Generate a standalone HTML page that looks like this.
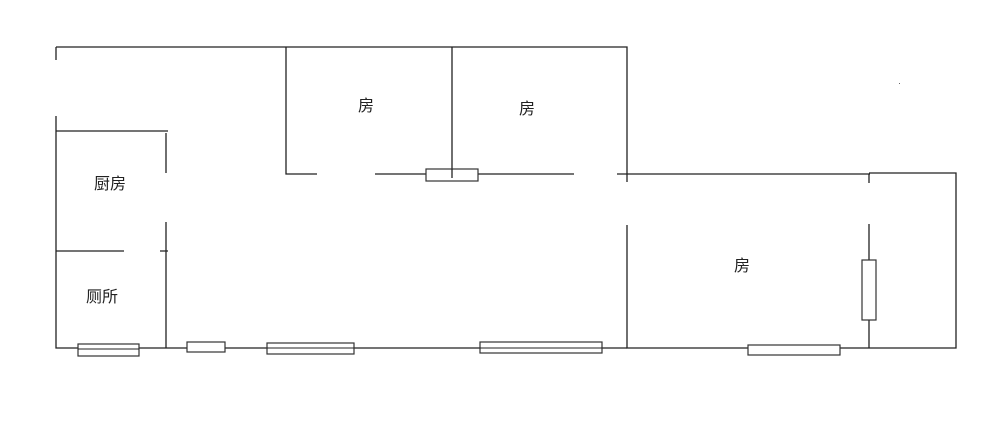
<!DOCTYPE html>
<html><head><meta charset="utf-8"><style>
html,body{margin:0;padding:0;background:#fff;width:1000px;height:438px;overflow:hidden}
svg text{font-family:"Liberation Sans","Noto Sans CJK SC",sans-serif;font-size:16px;fill:#222}
</style></head><body>
<svg width="1000" height="438" viewBox="0 0 1000 438" xmlns="http://www.w3.org/2000/svg">
<g stroke="#222" stroke-width="1.3" fill="none">
<path d="M56 47H627V182M56 47V60M56 116V348H627"/>
<path d="M56 131H168M166 133V173M166 222V348M56 251H124M160 251H168"/>
<path d="M286 47V174H317M375 174H574M617 174H870M452 47V174"/>
<path d="M627 225V348H869M869 174V183M869 224V348M869 173H956V348H869"/>
</g>
<g stroke="#333" stroke-width="1.2" fill="#fff">
<rect x="78" y="344" width="61" height="12"/>
<rect x="187" y="342" width="38" height="10"/>
<rect x="267" y="343" width="87" height="11"/>
<rect x="480" y="342" width="122" height="11"/>
<rect x="748" y="345" width="92" height="10"/>
<rect x="426" y="169" width="52" height="12"/>
<rect x="862" y="260" width="14" height="60"/>
</g>
<path d="M452 169V178" stroke="#222" stroke-width="1.3"/>
<path d="M78 349H139M267 348H354M480 348H602" stroke="#222" stroke-width="1"/>
<rect x="899" y="83" width="1" height="1" fill="#666"/>
<text x="366" y="111" text-anchor="middle">房</text>
<text x="527" y="114" text-anchor="middle">房</text>
<text x="110" y="189" text-anchor="middle">厨房</text>
<text x="102" y="302" text-anchor="middle">厕所</text>
<text x="742" y="271" text-anchor="middle">房</text>
</svg>
</body></html>
